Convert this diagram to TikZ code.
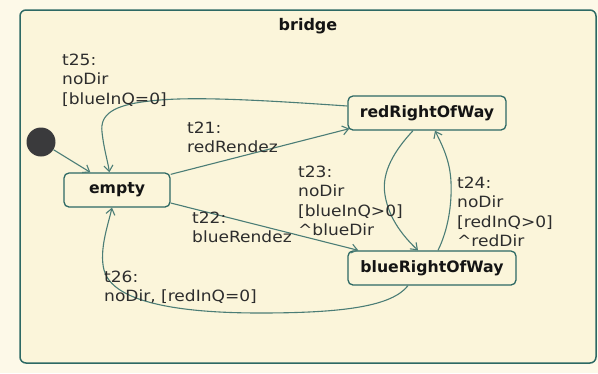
\documentclass[tikz,border=0pt]{standalone}
\usepackage{fontspec}
\usetikzlibrary{arrows.meta,calc}
\newfontfamily\lblfont[FakeStretch=1.1]{DejaVu Sans}
\newfontfamily\namefont{DejaVu Sans}
\definecolor{paper}{RGB}{253,249,232}
\definecolor{panel}{RGB}{251,245,218}
\definecolor{rim}{RGB}{45,105,100}
\definecolor{wire}{RGB}{75,125,118}
\definecolor{ink}{RGB}{45,45,45}
\definecolor{dark}{RGB}{20,20,20}
\definecolor{dot}{RGB}{58,58,60}
% multi-line transition label whose baseline is that of its first line
\newcommand\trlabel[1]{\begin{tabular}[t]{@{}l@{}}#1\end{tabular}}
\begin{document}
\begin{tikzpicture}[x=1pt,y=-1pt,
  state/.style={draw=rim, line width=1.3pt, rounded corners=5pt, fill=panel,
    minimum width=#1, minimum height=34pt, inner sep=0pt,
    font=\namefont\bfseries\fontsize{15.7}{18}\selectfont, text=dark},
  trans/.style={draw=wire, line width=1.1pt,
    -{Straight Barb[length=6pt,width=9pt]}},
  lbl/.style={anchor=base west, inner sep=0pt, text=ink,
    font=\lblfont\fontsize{15.5}{19.5}\selectfont}]

\useasboundingbox (0,0) rectangle (598,373);
\fill[paper] (0,0) rectangle (598,373);

% enclosing composite state
\draw[rim, line width=1.5pt, rounded corners=6pt, fill=panel] (20,10) rectangle (596,363);
\node[anchor=base, inner sep=0pt, text=dark,
  font=\namefont\bfseries\fontsize{16}{18}\selectfont] (title) at (308,30) {bridge};

% states
\node[state=106pt] (empty) at (117,190) {empty};
\node[state=158pt] (red) at (427,113) {redRightOfWay};
\node[state=168pt] (blue) at (432,268) {blueRightOfWay};
\node[circle, fill=dot, minimum size=29pt, inner sep=0pt] (init) at (41,142) {};

% transitions
\draw[trans] (init) -- ($(empty.north west)+(27,0)$);
\draw[trans] ($(red.west)+(0,-7)$) .. controls (260,100) and (190,96) .. (150,101)
  .. controls (112,105) and (100,115) .. (102,132)
  .. controls (104,150) and (108,162) .. ($(empty.north west)+(46,0)$);
\draw[trans] ($(empty.north east)+(0,2)$) -- ($(red.south west)+(2,-2)$);
\draw[trans] ($(empty.east)+(0,13)$) -- ($(blue.north west)+(11,0)$);
\draw[trans] ($(red.south)+(-14,0)$) .. controls (395,150) and (381,172) .. (385,195)
  .. controls (389,220) and (405,238) .. ($(blue.north)+(-14,0)$);
\draw[trans] ($(blue.north)+(6,0)$) .. controls (448,230) and (452,205) .. (451,182)
  .. controls (450,160) and (442,145) .. ($(red.south)+(8,0)$);
\draw[trans] ($(blue.south)+(-24,0)$) .. controls (392,306) and (345,313) .. (260,313)
  .. controls (170,313) and (112,300) .. (104,270)
  .. controls (99,250) and (108,225) .. ($(empty.south)+(-5,0)$);

% transition labels
\node[lbl] (l25) at (62,65) {\trlabel{t25:\\noDir\\{}[blueInQ=0]}};
\node[lbl] (l21) at (187,133) {\trlabel{t21:\\redRendez}};
\node[lbl] (l22) at (192,223) {\trlabel{t22:\\blueRendez}};
\node[lbl] (l23) at (298,177) {\trlabel{t23:\\noDir\\{}[blueInQ>0]\\\textasciicircum blueDir}};
\node[lbl] (l24) at (457,188) {\trlabel{t24:\\noDir\\{}[redInQ>0]\\\textasciicircum redDir}};
\node[lbl] (l26) at (104,282) {\trlabel{t26:\\noDir, [redInQ=0]}};
\end{tikzpicture}
\end{document}
